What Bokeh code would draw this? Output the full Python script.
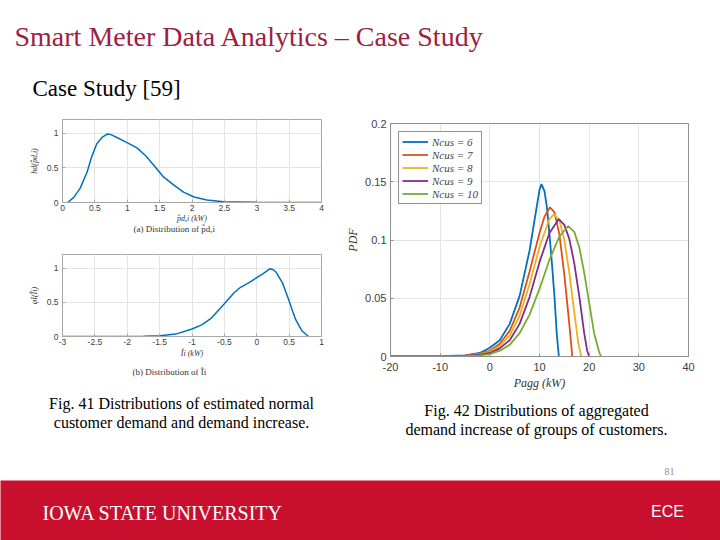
from bokeh.plotting import figure
from bokeh.layouts import column, row
from bokeh.models import Label, Range1d, FixedTicker, Title
from bokeh.embed import file_html
from bokeh.resources import INLINE

# ---------------- data ----------------
# (a) distribution of estimated normal demand
a_x = [0.08, 0.17, 0.27, 0.38, 0.45, 0.53, 0.61, 0.69, 0.74, 0.84, 0.99, 1.15, 1.28, 1.41,
       1.56, 1.72, 1.87, 2.03, 2.23, 2.49, 3.0, 3.5, 4.0]
a_y = [0.0, 0.07, 0.20, 0.44, 0.66, 0.85, 0.94, 0.99, 0.985, 0.94, 0.87, 0.79, 0.68, 0.54,
       0.37, 0.25, 0.15, 0.08, 0.035, 0.01, 0.002, 0.0, 0.0]
# (b) distribution of demand increase
b_x = [-3.0, -2.5, -2.0, -1.75, -1.5, -1.25, -1.0, -0.85, -0.7, -0.5, -0.35, -0.25, -0.1,
       0.0, 0.1, 0.2, 0.25, 0.3, 0.4, 0.5, 0.55, 0.6, 0.7, 0.8]
b_y = [0.0, 0.0, 0.001, 0.004, 0.01, 0.035, 0.11, 0.17, 0.27, 0.48, 0.64, 0.72, 0.80,
       0.86, 0.92, 0.99, 0.98, 0.94, 0.78, 0.52, 0.38, 0.25, 0.08, 0.0]

# aggregated demand increase PDFs
n6_x = [-20, -10, -5, -2, 0, 2, 4, 6, 8, 9, 10, 10.4, 11, 11.5, 12, 12.5, 13, 13.5, 13.9]
n6_y = [0, 0.0002, 0.001, 0.003, 0.0075, 0.014, 0.028, 0.052, 0.091, 0.117, 0.143, 0.148,
        0.142, 0.128, 0.105, 0.08, 0.052, 0.018, 0]
n7_x = [-20, -10, -5, -2, 0, 2, 4, 6, 8, 10, 11, 12.1, 13, 14, 15, 16, 16.6]
n7_y = [0, 0.0002, 0.0008, 0.0025, 0.005, 0.011, 0.022, 0.042, 0.073, 0.106, 0.12, 0.128,
        0.124, 0.105, 0.07, 0.028, 0]
n8_x = [-20, -10, -5, -2, 0, 2, 4, 6, 8, 10, 12, 12.9, 14, 15, 16, 17, 17.8, 18.4]
n8_y = [0, 0.0001, 0.0006, 0.002, 0.004, 0.009, 0.018, 0.035, 0.062, 0.094, 0.118, 0.122,
        0.117, 0.1, 0.072, 0.038, 0.012, 0]
n9_x = [-20, -10, -5, -2, 0, 2, 4, 6, 8, 10, 12, 13.9, 15, 16, 17, 18, 19, 19.6, 20.0]
n9_y = [0, 0.0001, 0.0005, 0.0015, 0.003, 0.007, 0.014, 0.028, 0.051, 0.081, 0.106, 0.118,
        0.113, 0.101, 0.08, 0.052, 0.02, 0.005, 0]
n10_x = [-20, -10, -5, -2, 0, 2, 4, 6, 8, 10, 12, 14, 15.8, 17, 18, 19, 20, 21, 22, 22.4]
n10_y = [0, 0.0001, 0.0004, 0.001, 0.002, 0.005, 0.01, 0.02, 0.036, 0.058, 0.083, 0.103,
         0.112, 0.107, 0.094, 0.072, 0.046, 0.02, 0.004, 0]
series_labels = ["Ncus = 6", "Ncus = 7", "Ncus = 8", "Ncus = 9", "Ncus = 10"]
series_colors = ["#0072BD", "#D95319", "#EDB120", "#7E2F8E", "#77AC30"]

a_xticks = [0, 0.5, 1, 1.5, 2, 2.5, 3, 3.5, 4]
a_xlabels = ["0", "0.5", "1", "1.5", "2", "2.5", "3", "3.5", "4"]
a_yticks = [0, 0.5, 1]
a_ylabels = ["0", "0.5", "1"]
b_xticks = [-3, -2.5, -2, -1.5, -1, -0.5, 0, 0.5, 1]
b_xlabels = ["-3", "-2.5", "-2", "-1.5", "-1", "-0.5", "0", "0.5", "1"]
r_xticks = [-20, -10, 0, 10, 20, 30, 40]
r_xlabels = ["-20", "-10", "0", "10", "20", "30", "40"]
r_yticks = [0, 0.05, 0.1, 0.15, 0.2]
r_ylabels = ["0", "0.05", "0.1", "0.15", "0.2"]

SERIF = "Liberation Serif"
SANS = "Liberation Sans"
RED = "#C8102E"


def text_fig(w, h, x0, x1, y0, y1, bg="white"):
    f = figure(width=w, height=h, x_range=Range1d(x0, x1), y_range=Range1d(y1, y0),
               output_backend="svg", toolbar_location=None, min_border=0,
               x_axis_type=None, y_axis_type=None, outline_line_color=None,
               background_fill_color=bg, border_fill_color=bg)
    return f


def style_axes(p, xt, xl, yt, yl, tick_size, frame_color, label_size):
    p.xaxis.ticker = FixedTicker(ticks=xt)
    p.yaxis.ticker = FixedTicker(ticks=yt)
    p.xaxis.major_label_overrides = {t: s for t, s in zip(xt, xl)}
    p.yaxis.major_label_overrides = {t: s for t, s in zip(yt, yl)}
    p.xgrid.ticker = FixedTicker(ticks=xt)
    p.ygrid.ticker = FixedTicker(ticks=yt)
    p.grid.grid_line_color = "#E4E4E4"
    p.outline_line_color = frame_color
    for ax in (p.xaxis, p.yaxis):
        ax.axis_line_color = frame_color
        ax.major_tick_line_color = frame_color
        ax.major_tick_in = 3
        ax.major_tick_out = 0
        ax.minor_tick_line_color = None
        ax.major_label_text_font = SANS
        ax.major_label_text_font_size = tick_size
        ax.major_label_text_color = "#404040"
        ax.axis_label_text_font = SERIF
        ax.axis_label_text_font_style = "italic"
        ax.axis_label_text_font_size = label_size
        ax.axis_label_text_color = "#333333"


# ---------------- header ----------------
header = text_fig(720, 110, 0, 720, 0, 110)
header.add_layout(Label(x=14, y=35.5, text="Smart Meter Data Analytics \u2013 Case Study",
                        text_font=SERIF, text_font_size="28px", text_color="#9E2040",
                        text_baseline="middle"))
header.add_layout(Label(x=32, y=88, text="Case Study [59]", text_font=SERIF,
                        text_font_size="23px", text_color="#000000",
                        text_baseline="middle"))

# ---------------- chart (a) ----------------
fa = figure(width=342, height=135, x_range=Range1d(0, 4), y_range=Range1d(0, 1.2),
            output_backend="svg", toolbar_location=None,
            min_border_left=62, min_border_right=21, min_border_top=9, min_border_bottom=43)
fa.line(a_x, a_y, line_color="#0072BD", line_width=1.5)
style_axes(fa, a_xticks, a_xlabels, a_yticks, a_ylabels, "8.5px", "#A8A8A8", "8px")
fa.xaxis.axis_label = "p\u0302d,i (kW)"
fa.yaxis.axis_label = "hd(p\u0302d,i)"
fa.xaxis.major_label_standoff = 2
fa.xaxis.axis_label_standoff = 0
fa.yaxis.major_label_standoff = 4
fa.yaxis.axis_label_standoff = 5
fa.add_layout(Title(text="(a) Distribution of p\u0302d,i", align="left", offset=71, standoff=-8,
                    text_font=SERIF, text_font_size="9px", text_font_style="normal",
                    text_color="#333333"), "below")

# ---------------- chart (b) ----------------
fb = figure(width=342, height=150, x_range=Range1d(-3, 1), y_range=Range1d(0, 1.2),
            output_backend="svg", toolbar_location=None,
            min_border_left=62, min_border_right=21, min_border_top=9, min_border_bottom=59)
fb.line(b_x, b_y, line_color="#0072BD", line_width=1.5)
style_axes(fb, b_xticks, b_xlabels, a_yticks, a_ylabels, "8.5px", "#A8A8A8", "8px")
fb.xaxis.axis_label = "\u00cei (kW)"
fb.yaxis.axis_label = "\u03c6I(\u00cei)"
fb.xaxis.major_label_standoff = 2
fb.xaxis.axis_label_standoff = 1
fb.yaxis.major_label_standoff = 4
fb.yaxis.axis_label_standoff = 5
fb.add_layout(Title(text="(b) Distribution of \u00cei", align="left", offset=70, standoff=8,
                    text_font=SERIF, text_font_size="9px", text_font_style="normal",
                    text_color="#333333"), "below")

# ---------------- right chart ----------------
fr = figure(width=378, height=285, x_range=Range1d(-20, 40), y_range=Range1d(0, 0.2),
            output_backend="svg", toolbar_location=None,
            min_border_left=48, min_border_right=32, min_border_top=13, min_border_bottom=39)
all_x = [n6_x, n7_x, n8_x, n9_x, n10_x]
all_y = [n6_y, n7_y, n8_y, n9_y, n10_y]
for xs, ys, lab, col in zip(all_x, all_y, series_labels, series_colors):
    fr.line(xs, ys, line_color=col, line_width=1.8, legend_label=lab)
style_axes(fr, r_xticks, r_xlabels, r_yticks, r_ylabels, "11px", "#8F8F8F", "12px")
fr.xaxis.axis_label = "Pagg (kW)"
fr.yaxis.axis_label = "PDF"
fr.xaxis.major_label_standoff = 6
fr.xaxis.axis_label_standoff = 2
fr.yaxis.major_label_standoff = 4
fr.yaxis.axis_label_standoff = 2
lg = fr.legend[0]
lg.location = "top_left"
lg.margin = 8
lg.padding = 3
lg.spacing = 0
lg.label_height = 13
lg.glyph_height = 13
lg.glyph_width = 26
lg.label_standoff = 4
lg.label_text_font = SERIF
lg.label_text_font_style = "italic"
lg.label_text_font_size = "11px"
lg.border_line_color = "#262626"
lg.border_line_width = 1
lg.background_fill_alpha = 1.0

# ---------------- captions (full width) ----------------
caps = text_fig(720, 85, 0, 720, 395, 480)
caps.add_layout(Label(x=181, y=403, text="Fig. 41 Distributions of estimated normal",
                      text_font=SERIF, text_font_size="16px", text_align="center",
                      text_baseline="middle", text_color="#000000"))
caps.add_layout(Label(x=181, y=422, text="customer demand and demand increase.",
                      text_font=SERIF, text_font_size="16px", text_align="center",
                      text_baseline="middle", text_color="#000000"))
caps.add_layout(Label(x=536, y=410, text="Fig. 42 Distributions of aggregated",
                      text_font=SERIF, text_font_size="16px", text_align="center",
                      text_baseline="middle", text_color="#000000"))
caps.add_layout(Label(x=536, y=429, text="demand increase of groups of customers.",
                      text_font=SERIF, text_font_size="16px", text_align="center",
                      text_baseline="middle", text_color="#000000"))
caps.add_layout(Label(x=669, y=471, text="81", text_font=SERIF, text_font_size="10px",
                      text_align="center", text_baseline="middle", text_color="#8C8C8C"))

# ---------------- footer ----------------
footer = text_fig(720, 60, 0, 720, 480, 540, bg=RED)
footer.add_layout(Label(x=42, y=512.5, text="IOWA STATE UNIVERSITY", text_font=SERIF,
                        text_font_size="20px", text_color="#FFFFFF",
                        text_baseline="middle"))
footer.add_layout(Label(x=667, y=511, text="ECE", text_font=SANS, text_font_size="16px",
                        text_color="#FFFFFF", text_align="center", text_baseline="middle"))

layout = column(header,
                row(column(fa, fb), fr),
                caps,
                footer)

open("out.html", "w").write(file_html(layout, INLINE))
